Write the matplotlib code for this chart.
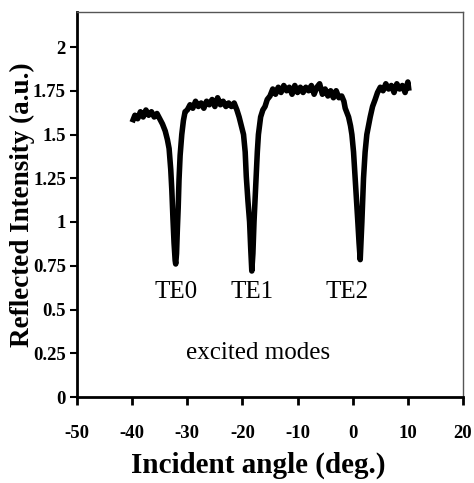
import matplotlib
matplotlib.use("Agg")
import matplotlib.pyplot as plt

plt.rcParams["axes.unicode_minus"] = False

angle = [-40, -39.5, -39, -38.5, -38, -37.5, -37, -36.5, -36, -35.5, -35, -34.5,
         -34.0, -33.6, -33.3, -33.0, -32.8, -32.6, -32.4, -32.2, -32.1, -31.95, -31.8, -31.65, -31.5, -31.3, -31.0, -30.7, -30.4,
         -30, -29.5, -29, -28.5, -28, -27.5, -27, -26.5, -26, -25.5, -25, -24.5, -24, -23.5, -23, -22.5, -22, -21.5, -21, -20.6,
         -20.2, -19.8, -19.5, -19.3, -19.0, -18.7, -18.5, -18.3, -18.1, -17.9, -17.7, -17.5, -17.3, -17.1, -16.7, -16.3, -15.9, -15.5,
         -15, -14.5, -14, -13.5, -13, -12.5, -12, -11.5, -11, -10.5, -10, -9.5, -9, -8.5, -8, -7.5, -7, -6.5, -6, -5.5, -5, -4.5, -4, -3.5, -3, -2.5, -2, -1.6,
         -1.36, -1.0, -0.75, -0.4, -0.15, 0.15, 0.45, 0.7, 0.93, 1.15, 1.36, 1.5, 1.66, 1.8, 1.96, 2.25, 2.56, 3.17, 3.6, 4.07,
         4.5, 5, 5.5, 6, 6.5, 7, 7.5, 8, 8.5, 9, 9.5, 10, 10.2]
intensity = [1.57, 1.61, 1.59, 1.63, 1.60, 1.64, 1.61, 1.63, 1.60, 1.62, 1.59, 1.56,
             1.52, 1.47, 1.42, 1.30, 1.18, 1.02, 0.88, 0.78, 0.76, 0.82, 0.96, 1.08, 1.24, 1.38, 1.50, 1.58, 1.63,
             1.64, 1.67, 1.65, 1.69, 1.66, 1.68, 1.65, 1.69, 1.67, 1.70, 1.66, 1.71, 1.67, 1.69, 1.66, 1.68, 1.66, 1.68, 1.64, 1.60,
             1.55, 1.50, 1.40, 1.26, 1.12, 1.00, 0.85, 0.72, 0.82, 1.00, 1.13, 1.26, 1.40, 1.50, 1.60, 1.64, 1.66, 1.70,
             1.72, 1.76, 1.73, 1.77, 1.74, 1.78, 1.75, 1.77, 1.73, 1.78, 1.74, 1.77, 1.74, 1.77, 1.75, 1.78, 1.73, 1.77, 1.79, 1.73, 1.76, 1.72, 1.75, 1.71, 1.75, 1.71, 1.72, 1.69,
             1.65, 1.62, 1.60, 1.55, 1.50, 1.40, 1.25, 1.12, 1.00, 0.88, 0.785, 0.88, 1.00, 1.12, 1.25, 1.40, 1.50, 1.60, 1.66, 1.70,
             1.74, 1.77, 1.75, 1.79, 1.76, 1.78, 1.74, 1.79, 1.76, 1.78, 1.74, 1.80, 1.75]

xticks = [-50, -40, -30, -20, -10, 0, 10, 20]
yticks = [0, 0.25, 0.5, 0.75, 1, 1.25, 1.5, 1.75, 2]
ytick_labels = ["0", "0.25", "0.5", "0.75", "1", "1.25", "1.5", "1.75", "2"]
mode_labels = ["TE0", "TE1", "TE2"]
mode_x = [-32.0, -18.3, -1.0]

W, H = 474, 483
fig = plt.figure(figsize=(W / 100, H / 100), dpi=100)
ax = fig.add_axes([77/W, 1 - 397/H, (463-77)/W, (397-12)/H])
ax.plot(angle, intensity, color="black", linewidth=4.0, solid_joinstyle="round",
        solid_capstyle="butt")
ax.set_xlim(-50, 20)
ax.set_ylim(0, 2.2)
ax.set_xticks(xticks)
ax.set_yticks(yticks)
ax.set_yticklabels(ytick_labels)

serif = ["Liberation Serif", "DejaVu Serif"]
for lab in ax.get_xticklabels() + ax.get_yticklabels():
    lab.set_family(serif)
    lab.set_fontweight("bold")
    lab.set_fontsize(13.5)

ax.tick_params(axis="x", direction="out", length=6, width=2, pad=14)
ax.tick_params(axis="y", direction="out", length=5, width=1.5, pad=3)
ax.spines["left"].set_linewidth(2)
ax.spines["bottom"].set_linewidth(2)
ax.spines["top"].set_linewidth(1)
ax.spines["right"].set_linewidth(1)
ax.spines["top"].set_color("#555555")
ax.spines["right"].set_color("#555555")

fig.text(258/W, 1 - 465/H, "Incident angle (deg.)", family=serif, fontweight="bold",
         fontsize=21, ha="center", va="center")
fig.text(22/W, 1 - 205/H, "Reflected Intensity (a.u.)", family=serif, fontweight="bold",
         fontsize=19.5, ha="center", va="center", rotation=90)

for lbl, mx in zip(mode_labels, mode_x):
    ax.text(mx, 0.60, lbl, family=serif, fontsize=18, ha="center", va="center")
ax.text(-17.2, 0.25, "excited modes", family=serif, fontsize=18, ha="center", va="center")

fig.savefig("out.png", dpi=100)
